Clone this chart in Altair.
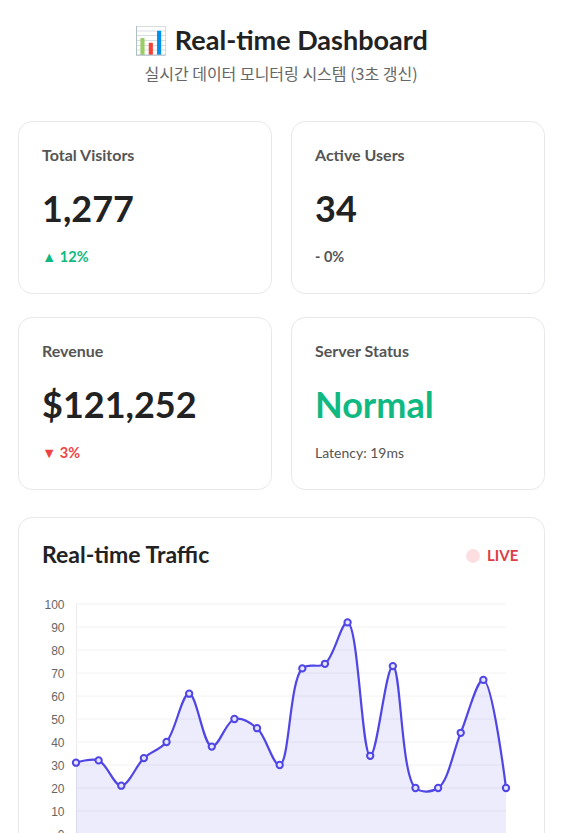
import pandas as pd
import altair as alt

# header texts
title_text = ["📊 Real-time Dashboard"]
subtitle_text = ["실시간 데이터 모니터링 시스템 (3초 갱신)"]

# stat cards
card_labels = ["Total Visitors", "Active Users", "Revenue", "Server Status"]
card_values = ["1,277", "34", "$121,252", "Normal"]
card_notes = ["▲ 12%", "- 0%", "▼ 3%", "Latency: 19ms"]
value_colors = ["#222222", "#222222", "#222222", "#10b981"]
note_colors = ["#10b981", "#555555", "#ef4444", "#555555"]

# traffic chart
traffic_title = ["Real-time Traffic"]
live_label = ["LIVE"]
traffic_visitors = [31, 32, 21, 33, 40, 61, 38, 50, 46, 30,
                    72, 74, 92, 34, 73, 20, 20, 44, 67, 20]
y_ticks = [0, 10, 20, 30, 40, 50, 60, 70, 80, 90, 100]

FONT = "Lato"
INDIGO = "#4f46e5"
card_view = alt.ViewBackground(fill="white", stroke="#e8e8ec", strokeWidth=1, cornerRadius=14)


def stat_card(i):
    df = pd.DataFrame({"label": [card_labels[i]], "value": [card_values[i]], "note": [card_notes[i]]})
    base = alt.Chart(df)
    label = base.mark_text(align="left", baseline="alphabetic", font=FONT, fontSize=16,
                           fontWeight="bold", color="#555555").encode(
        x=alt.value(24), y=alt.value(40), text="label:N")
    value = base.mark_text(align="left", baseline="alphabetic", font=FONT, fontSize=36,
                           fontWeight="bold", color=value_colors[i]).encode(
        x=alt.value(24), y=alt.value(101), text="value:N")
    note = base.mark_text(align="left", baseline="alphabetic", font=FONT,
                          fontSize=14 if i == 3 else 14.5,
                          fontWeight="normal" if i == 3 else "bold",
                          color=note_colors[i]).encode(
        x=alt.value(24), y=alt.value(141), text="note:N")
    return alt.layer(label, value, note).properties(width=253, height=172, view=card_view)


#%% header
head_df = pd.DataFrame({"title": title_text, "subtitle": subtitle_text})
head_title = alt.Chart(head_df).mark_text(align="center", baseline="alphabetic", font=FONT,
                                          fontSize=27, fontWeight="bold", color="#222222").encode(
    x=alt.value(263), y=alt.value(42), text="title:N")
head_sub = alt.Chart(head_df).mark_text(align="center", baseline="middle", font="Noto Sans CJK KR",
                                        fontSize=16, color="#666666").encode(
    x=alt.value(263), y=alt.value(67), text="subtitle:N")
head = alt.layer(head_title, head_sub).properties(
    width=526, height=86, view=alt.ViewBackground(fillOpacity=0, strokeOpacity=0))

#%% traffic card
traffic_df = pd.DataFrame({"point": list(range(len(traffic_visitors))), "visitors": traffic_visitors})
tick_df = pd.DataFrame({"tick": y_ticks})
tt_df = pd.DataFrame({"title": traffic_title, "live": live_label})

x_scale = alt.Scale(domain=[0, len(traffic_visitors) - 1], range=[58, 488])
y_scale = alt.Scale(domain=[0, 100], range=[317, 87])
y_axis = alt.Axis(values=y_ticks, offset=-58, grid=False, ticks=False, domainColor="#ebebeb",
                  labelPadding=12, labelFont="Liberation Sans", labelFontSize=12,
                  labelColor="#666666", title=None)

grid = alt.Chart(tick_df).mark_rule(color="#f2f2f2", strokeWidth=1).encode(
    y=alt.Y("tick:Q", scale=y_scale, axis=y_axis),
    x=alt.value(58), x2=alt.value(488))

area = alt.Chart(traffic_df).mark_area(interpolate="catmull-rom", fill=INDIGO, fillOpacity=0.1).encode(
    x=alt.X("point:Q", scale=x_scale, axis=None),
    y=alt.Y("visitors:Q", scale=y_scale, axis=y_axis))
line = alt.Chart(traffic_df).mark_line(interpolate="catmull-rom", color=INDIGO, strokeWidth=2.2).encode(
    x=alt.X("point:Q", scale=x_scale, axis=None),
    y=alt.Y("visitors:Q", scale=y_scale, axis=y_axis))
dots = alt.Chart(traffic_df).mark_point(shape="circle", size=40, filled=True, fill="#e6e5fb",
                                        stroke=INDIGO, strokeWidth=2, opacity=1).encode(
    x=alt.X("point:Q", scale=x_scale, axis=None),
    y=alt.Y("visitors:Q", scale=y_scale, axis=y_axis))

t_title = alt.Chart(tt_df).mark_text(align="left", baseline="alphabetic", font=FONT, fontSize=23,
                                     fontWeight="bold", color="#222222").encode(
    x=alt.value(24), y=alt.value(46), text="title:N")
live_dot = alt.Chart(tt_df).mark_point(shape="circle", filled=True, size=190, color="#fcdde0",
                                       opacity=1).encode(x=alt.value(455), y=alt.value(39))
live_text = alt.Chart(tt_df).mark_text(align="left", baseline="alphabetic", font=FONT, fontSize=15,
                                       fontWeight="bold", color="#e03c48").encode(
    x=alt.value(469), y=alt.value(44), text="live:N")

traffic = alt.layer(grid, area, line, dots, t_title, live_dot, live_text).properties(
    width=526, height=340, view=card_view)

#%% layout
rows = alt.vconcat(
    alt.hconcat(stat_card(0), stat_card(1), spacing=18),
    alt.hconcat(stat_card(2), stat_card(3), spacing=18),
    spacing=22)

chart = alt.vconcat(head, rows, traffic, spacing=26).properties(
    padding={"left": 9, "top": 0, "right": 0, "bottom": 0},
    background="white"
).configure(font=FONT)

chart.save("out.html", embed_options={"renderer": "svg", "actions": False})
